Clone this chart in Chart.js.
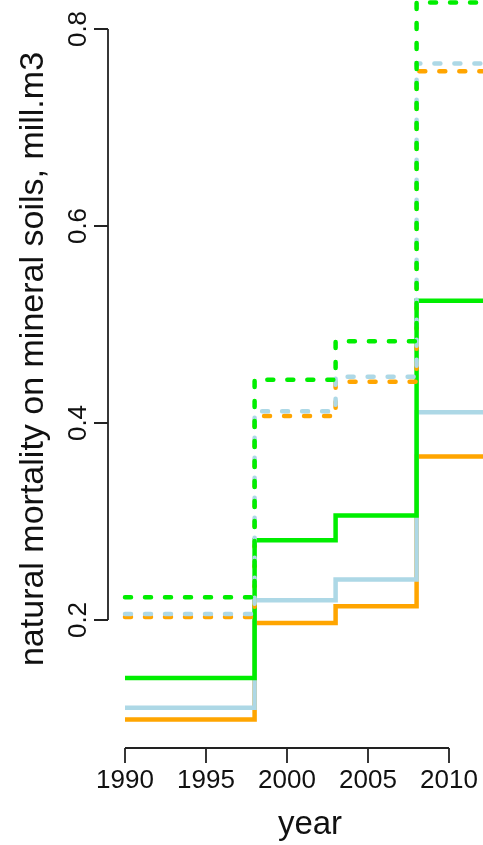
<!DOCTYPE html>
<html>
<head>
<meta charset="utf-8">
<script src="https://cdn.jsdelivr.net/npm/chart.js@4.4.1/dist/chart.umd.min.js"></script>
<style>
  html, body { margin: 0; padding: 0; background: #fff; }
  #wrap { width: 483px; height: 845px; }
</style>
</head>
<body>
<div id="wrap"><canvas id="c" width="483" height="845"></canvas></div>
<script>
// step breakpoints (value holds until next year)
const years = [1990, 1998, 2003, 2008, 2013];

// solid lines
const greenSolid = [0.141, 0.281, 0.306, 0.524, 0.524];
const blueSolid = [0.111, 0.220, 0.241, 0.411, 0.411];
const orangeSolid = [0.099, 0.197, 0.214, 0.366, 0.366];

// dashed lines
const greenDashed = [0.223, 0.444, 0.483, 0.827, 0.827];
const blueDashed = [0.206, 0.412, 0.447, 0.765, 0.765];
const orangeDashed = [0.203, 0.407, 0.442, 0.757, 0.757];

const xTicks = [1990, 1995, 2000, 2005, 2010];
const yTicks = [0.2, 0.4, 0.6, 0.8];

const GREEN = '#00ee00';
const BLUE = '#add8e6';
const ORANGE = '#ffa500';
const FONT = '"Liberation Sans", Arial, Helvetica, sans-serif';

function pts(vals) {
   return years.map((yr, i) => ({ x: yr, y: vals[i] }));
}

function line(vals, color, dashed, order) {
   return {
      data: pts(vals),
      borderColor: color,
      borderWidth: 4.5,
      borderDash: dashed ? [6, 14] : [],
      borderCapStyle: dashed ? 'round' : 'butt',
      borderJoinStyle: 'miter',
      stepped: true,
      pointRadius: 0,
      fill: false,
      clip: false,
      order: order
   };
}

// draw axes the way R does: line only from first to last tick
const rAxes = {
   id: 'rAxes',
   afterDraw(chart) {
      const ctx = chart.ctx;
      const x = chart.scales.x, y = chart.scales.y;
      const ax = x.left, ay = y.bottom;
      ctx.save();
      ctx.strokeStyle = '#222';
      ctx.lineWidth = 1.8;
      ctx.beginPath();
      ctx.moveTo(ax, y.getPixelForValue(yTicks[0]));
      ctx.lineTo(ax, y.getPixelForValue(yTicks[yTicks.length - 1]));
      yTicks.forEach(v => {
         const p = y.getPixelForValue(v);
         ctx.moveTo(ax, p);
         ctx.lineTo(ax - 14, p);
      });
      ctx.moveTo(x.getPixelForValue(xTicks[0]), ay);
      ctx.lineTo(x.getPixelForValue(xTicks[xTicks.length - 1]), ay);
      xTicks.forEach(v => {
         const p = x.getPixelForValue(v);
         ctx.moveTo(p, ay);
         ctx.lineTo(p, ay + 15);
      });
      ctx.stroke();

      ctx.fillStyle = '#111';
      ctx.font = '26px ' + FONT;
      ctx.textAlign = 'center';
      ctx.textBaseline = 'alphabetic';
      xTicks.forEach(v => {
         ctx.fillText(String(v), x.getPixelForValue(v), ay + 40);
      });
      yTicks.forEach(v => {
         const p = y.getPixelForValue(v);
         ctx.save();
         ctx.translate(86, p);
         ctx.rotate(-Math.PI / 2);
         ctx.fillText(v.toFixed(1), 0, 0);
         ctx.restore();
      });

      ctx.font = '33px ' + FONT;
      ctx.fillText('year', 310, 834);
      ctx.font = '34px ' + FONT;
      ctx.save();
      ctx.translate(43, 359);
      ctx.rotate(-Math.PI / 2);
      ctx.fillText('natural mortality on mineral soils, mill.m3', 0, 0);
      ctx.restore();
      ctx.restore();
   }
};

new Chart(document.getElementById('c'), {
   type: 'line',
   data: {
      datasets: [
         line(orangeSolid, ORANGE, false, 6),
         line(blueSolid, BLUE, false, 5),
         line(greenSolid, GREEN, false, 4),
         line(orangeDashed, ORANGE, true, 3),
         line(blueDashed, BLUE, true, 2),
         line(greenDashed, GREEN, true, 1)
      ]
   },
   options: {
      responsive: false,
      animation: false,
      layout: { padding: { left: 108, right: 0, top: 0, bottom: 97 } },
      plugins: { legend: { display: false }, tooltip: { enabled: false } },
      scales: {
         x: { type: 'linear', display: false, min: 1990 - 17 / 16.2, max: 1990 + 358 / 16.2 },
         y: { type: 'linear', display: false, min: 0.2 - 128 / 985, max: 0.2 + 620 / 985 }
      }
   },
   plugins: [rAxes]
});
</script>
</body>
</html>
